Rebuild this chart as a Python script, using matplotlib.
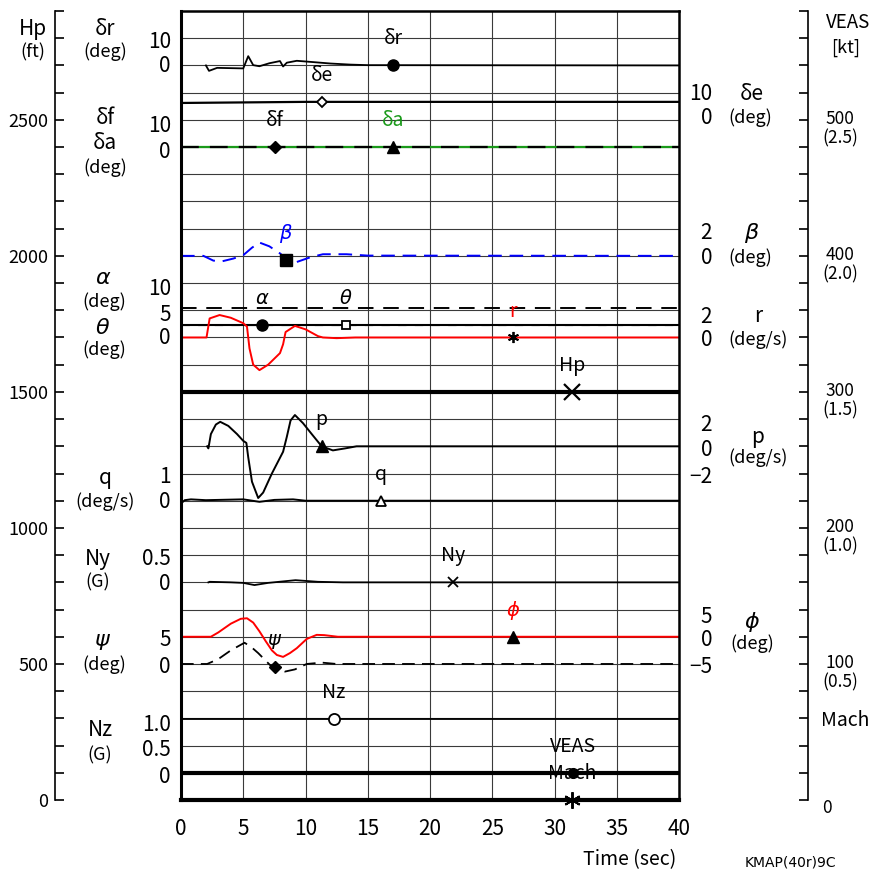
import numpy as np
import matplotlib.pyplot as plt
from matplotlib.transforms import ScaledTranslation

plt.rcParams['font.family'] = ['Noto Sans CJK JP', 'DejaVu Sans']
plt.rcParams['mathtext.fontset'] = 'dejavusans'

# ---- time histories (sec, engineering units) ----
t_dr = [2.0, 2.25, 2.9, 5.0, 5.4, 5.8, 6.3, 7.1, 7.95, 8.2, 8.5, 9.3, 10.4, 12.0, 13.6, 15.0, 40.0]
dr = [0.0, -2.0, -0.9, -1.1, 3.4, 0.1, -0.3, 0.8, 1.6, -0.4, 1.0, 1.7, 1.3, 0.7, 0.3, 0.1, 0.0]

t_de = [0.0, 5.0, 10.0, 40.0]
de = [6.2, 6.4, 6.6, 6.6]

t_df = [0.0, 40.0]
df = [0.0, 0.0]
t_da = [0.0, 40.0]
da = [0.0, 0.0]

t_beta = [0.0, 1.8, 2.6, 3.3, 4.2, 5.0, 5.7, 6.3, 7.1, 8.0, 8.4, 9.3, 10.4, 11.4, 13.3, 15.0, 40.0]
beta = [0.0, 0.0, -0.35, -0.4, -0.2, 0.05, 0.6, 0.98, 0.7, 0.15, -0.3, -0.45, -0.1, 0.12, 0.12, 0.02, 0.0]

t_alpha = [0.0, 40.0]
alpha = [2.3, 2.3]
t_alim = [0.0, 40.0]
alim = [5.4, 5.4]
t_theta = [0.0, 40.0]
theta = [2.3, 2.3]

t_r = [0.0, 2.05, 2.3, 3.1, 4.0, 5.0, 5.3, 5.5, 5.8, 6.3, 7.0, 7.95, 8.2, 8.4, 9.15, 10.0, 11.0, 11.4, 12.5, 14.0, 40.0]
r = [0.0, 0.0, 1.4, 1.65, 1.45, 1.05, 0.8, -0.8, -2.0, -2.4, -2.0, -1.15, -0.5, 0.4, 0.85, 0.6, 0.1, 0.0, -0.05, 0.0, 0.0]

t_hp = [0.0, 40.0]
hp = [1500.0, 1500.0]

t_p = [2.1, 2.2, 2.4, 2.8, 3.15, 3.8, 4.5, 5.0, 5.25, 5.4, 5.7, 6.2, 6.6, 7.3, 8.2, 8.5, 8.8, 9.15, 9.8, 10.5, 11.3, 12.2, 13.2, 14.1, 40.0]
p = [0.0, -0.15, 0.9, 1.6, 1.8, 1.5, 0.9, 0.4, 0.25, -0.8, -2.6, -3.8, -3.4, -2.0, -0.4, 0.7, 1.9, 2.3, 1.7, 0.9, 0.0, -0.3, -0.15, 0.0, 0.0]

t_q = [0.0, 0.3, 0.8, 2.0, 4.0, 5.0, 6.3, 7.5, 9.0, 10.0, 12.0, 40.0]
q = [-0.1, 0.02, 0.05, 0.02, 0.04, 0.05, -0.04, 0.03, 0.05, 0.0, 0.0, 0.0]

t_ny = [2.2, 2.3, 4.0, 5.0, 5.9, 7.0, 9.2, 11.0, 13.0, 40.0]
ny = [0.0, 0.01, 0.0, -0.01, -0.05, -0.01, 0.04, 0.01, 0.0, 0.0]

t_phi = [0.0, 2.4, 3.0, 4.0, 4.8, 5.3, 5.8, 6.3, 6.8, 7.3, 7.7, 8.2, 8.75, 9.3, 10.1, 10.9, 11.5, 12.6, 40.0]
phi = [0.0, 0.0, 0.8, 2.4, 3.3, 3.4, 2.6, 1.0, -0.8, -2.5, -3.35, -3.7, -3.0, -2.1, -0.4, 0.35, 0.3, 0.0, 0.0]

t_psi = [0.0, 2.1, 3.0, 4.0, 5.1, 5.6, 6.2, 7.15, 7.55, 8.35, 9.15, 10.1, 11.3, 12.5, 40.0]
psi = [0.0, 0.0, 0.9, 2.5, 3.9, 3.2, 2.0, -0.2, -0.5, -1.4, -1.0, 0.0, 0.25, 0.0, 0.0]

t_nz = [0.0, 40.0]
nz = [0.99, 0.99]

t_veas = [0.0, 40.0]
veas = [20.0, 20.0]
t_mach = [0.0, 40.0]
mach = [0.0, 0.0]

# ---- chart frame ----
W, H = 874, 872
fig = plt.figure(figsize=(W / 100, H / 100), dpi=100)
ax = fig.add_axes([181 / W, 72 / H, 498 / W, 789 / H])
ax.set_xlim(0, 40)
ax.set_ylim(0, 2900)
ax.set_xticks(np.arange(0, 41, 5))
ax.set_yticks(np.arange(0, 2900, 100))
ax.grid(True, color='#3a3a3a', lw=0.8)
ax.tick_params(axis='y', length=0, labelleft=False)
ax.tick_params(axis='x', length=0, pad=13, labelsize=15)
for side, lw in [('left', 2.2), ('top', 1.8), ('right', 1.8), ('bottom', 3.0)]:
    ax.spines[side].set_linewidth(lw)


def trace(t, v, zero, scale, **kw):
    kw.setdefault('lw', 1.3)
    kw.setdefault('color', 'k')
    ax.plot(t, zero + scale * np.asarray(v, float), **kw)


def tag(t, v, zero, scale, tm, text, marker, ms=8, mfc='k', tcolor='k', **kw):
    ym = zero + scale * np.interp(tm, t, v)
    ax.plot([tm], [ym], marker=marker, ms=ms, mfc=mfc, mec='k', ls='none',
            zorder=6, clip_on=False, **kw)
    ax.annotate(text, (tm, ym), xytext=(0, 19), textcoords='offset points',
                ha='center', va='center', color=tcolor, fontsize=14, zorder=7)


# zero level (ft on the Hp scale) and ft per unit for each channel
trace(t_dr, dr, 2700, 10)
trace(t_de, de, 2500, 10, lw=1.6)
trace(t_da, da, 2400, 10, color='#1a9a1a', lw=1.6)
trace(t_df, df, 2400, 10, lw=1.6, ls=(0, (8, 5)))
trace(t_beta, beta, 2000, 50, color='#0000ff', lw=1.4, ls=(0, (7, 4)))
trace(t_alim, alim, 1700, 20, lw=1.4, ls=(0, (8, 5)))
trace(t_alpha, alpha, 1700, 20, color='#b0b0b0', lw=1.0, ls=(0, (6, 6)))
trace(t_theta, theta, 1700, 20, lw=1.5)
trace(t_r, r, 1700, 50, color='#ff0000', lw=1.4)
trace(t_hp, hp, 0, 1, lw=3.0)
trace(t_p, p, 1300, 50, lw=1.4)
trace(t_q, q, 1100, 100, lw=1.4)
trace(t_ny, ny, 800, 200, lw=1.3)
trace(t_phi, phi, 600, 20, color='#ff0000', lw=1.4)
trace(t_psi, psi, 500, 20, lw=1.3, ls=(0, (7, 4)))
trace(t_nz, nz, 100, 200, lw=1.3)
trace(t_veas, veas, 0, 5, lw=3.0)
trace(t_mach, mach, 0, 1000, lw=3.5)

tag(t_dr, dr, 2700, 10, 17.05, 'δr', 'o', ms=8)
tag(t_de, de, 2500, 10, 11.35, 'δe', 'D', ms=5, mfc='white', mew=1.3)
tag(t_df, df, 2400, 10, 7.55, 'δf', 'D', ms=6)
tag(t_da, da, 2400, 10, 17.05, 'δa', '^', ms=8, tcolor='#1a9a1a')
tag(t_beta, beta, 2000, 50, 8.45, r'$\beta$', 's', ms=8, tcolor='#0000ff')
tag(t_alpha, alpha, 1700, 20, 6.5, r'$\alpha$', 'o', ms=8)
tag(t_theta, theta, 1700, 20, 13.25, r'$\theta$', 's', ms=6, mfc='white', mew=1.3)
tag(t_r, r, 1700, 50, 26.7, 'r', (6, 2, 0), ms=8, mew=1.3, tcolor='#ff0000')
tag(t_hp, hp, 0, 1, 31.4, 'Hp', 'x', ms=11, mew=1.6)
tag(t_p, p, 1300, 50, 11.3, 'p', '^', ms=8)
tag(t_q, q, 1100, 100, 16.05, 'q', '^', ms=7, mfc='white', mew=1.3)
tag(t_ny, ny, 800, 200, 21.85, 'Ny', 'x', ms=7, mew=1.3)
tag(t_phi, phi, 600, 20, 26.7, r'$\phi$', '^', ms=8, tcolor='#ff0000')
tag(t_psi, psi, 500, 20, 7.55, r'$\psi$', 'D', ms=6)
tag(t_nz, nz, 100, 200, 12.3, 'Nz', 'o', ms=8, mfc='white', mew=1.3)
tag(t_veas, veas, 0, 5, 31.5, 'VEAS', 'o', ms=7)
tag(t_mach, mach, 0, 1000, 31.4, 'Mach', (6, 2, 0), ms=12, mew=1.4)

# ---- Hp scale (left) ----
axh = fig.add_axes([55 / W, 72 / H, 1 / W, 789 / H])
axh.set_ylim(0, 2900)
axh.patch.set_visible(False)
for side in ['top', 'right', 'bottom']:
    axh.spines[side].set_visible(False)
axh.spines['left'].set_linewidth(1.2)
axh.set_xticks([])
axh.set_yticks(np.arange(0, 2600, 500))
axh.set_yticks(np.arange(0, 2901, 100), minor=True)
axh.tick_params(which='both', direction='in', length=6.5, width=1.2)
axh.tick_params(which='major', labelsize=13, pad=5)

# ---- VEAS / Mach scale (right) ----
axv = fig.add_axes([807 / W, 72 / H, 1 / W, 789 / H])
axv.set_ylim(0, 580)
axv.patch.set_visible(False)
for side in ['top', 'left', 'bottom']:
    axv.spines[side].set_visible(False)
axv.spines['right'].set_linewidth(1.2)
axv.set_xticks([])
axv.yaxis.tick_right()
veas_ticks = [0, 100, 200, 300, 400, 500]
veas_labels = ['0', '100\n(0.5)', '200\n(1.0)', '300\n(1.5)', '400\n(2.0)', '500\n(2.5)']
axv.set_yticks(veas_ticks)
axv.set_yticklabels(veas_labels)
axv.set_yticks(np.arange(0, 581, 20), minor=True)
axv.tick_params(which='both', direction='in', length=6.5, width=1.2)
axv.tick_params(which='major', labelsize=12.5, pad=10)
for lbl in axv.get_yticklabels():
    lbl.set_multialignment('center')
    lbl.set_linespacing(1.1)
    lbl.set_transform(lbl.get_transform() + ScaledTranslation(0, -0.06, fig.dpi_scale_trans))


def ftext(x, y, s, ha='center', size=14, **kw):
    fig.text(x / W, 1 - y / H, s, ha=ha, va='center', fontsize=size, **kw)


# channel names and scale values, left side
ftext(33, 29, 'Hp', size=15)
ftext(33, 52, '(ft)', size=13)
for x, y, s, size in [(105, 29, 'δr', 15), (105, 52, '(deg)', 13),
                      (105, 118, 'δf', 15), (105, 143, 'δa', 15), (105, 168, '(deg)', 13),
                      (103, 278, r'$\alpha$', 16), (104, 302, '(deg)', 13),
                      (103, 327, r'$\theta$', 16), (104, 350, '(deg)', 13),
                      (105, 478, 'q', 15), (105, 502, '(deg/s)', 13),
                      (98, 559, 'Ny', 15), (98, 582, '(G)', 13),
                      (103, 640, r'$\psi$', 16), (104, 665, '(deg)', 13),
                      (100, 730, 'Nz', 15), (100, 755, '(G)', 13)]:
    ftext(x, y, s, size=size)
for y, s in [(42, '10'), (66, '0'), (126, '10'), (152, '0'),
             (289, '10'), (315, '5'), (338, '0'), (477, '1'), (502, '0'),
             (559, '0.5'), (584, '0'), (640, '5'), (667, '0'),
             (725, '1.0'), (750, '0.5'), (777, '0')]:
    ftext(171, y, s, ha='right', size=15)

# channel names and scale values, right side
for y, s in [(94, '10'), (118, '0'), (233, '2'), (258, '0'), (317, '2'), (340, '0'),
             (425, '2'), (450, '0'), (477, '−2'), (617, '5'), (640, '0'), (667, '−5')]:
    ftext(712, y, s, ha='right', size=15)
for x, y, s, size in [(752, 94, 'δe', 15), (750, 118, '(deg)', 13),
                      (752, 233, r'$\beta$', 16), (750, 258, '(deg)', 13),
                      (758, 316, 'r', 15), (758, 340, '(deg/s)', 13),
                      (758, 437, 'p', 15), (758, 458, '(deg/s)', 13),
                      (752, 622, r'$\phi$', 16), (752, 644, '(deg)', 13)]:
    ftext(x, y, s, size=size)

ftext(826, 23, 'VEAS', ha='left', size=13.5)
ftext(831, 48, '[kt]', ha='left', size=13)
ftext(845, 720, 'Mach', size=14)

ftext(630, 860, 'Time (sec)', size=14)
ftext(790, 862, 'KMAP(40r)9C', size=10, family=['DejaVu Sans'])

fig.savefig('out.png', dpi=100)
